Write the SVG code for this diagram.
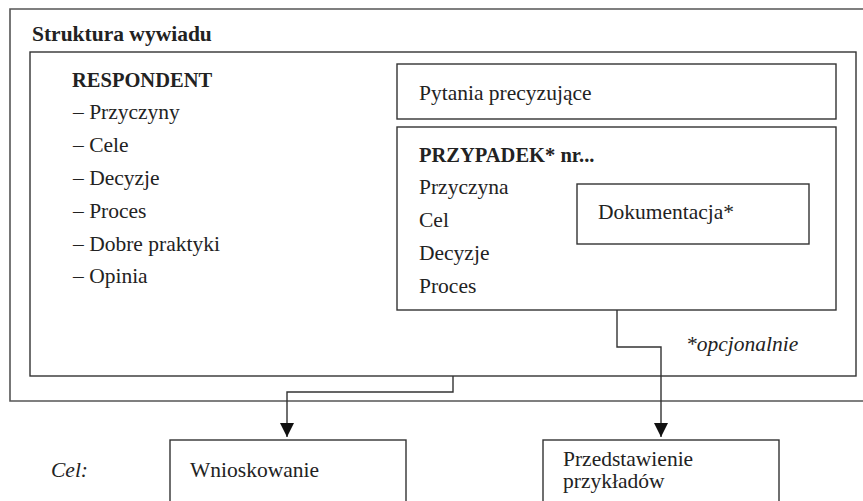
<svg xmlns="http://www.w3.org/2000/svg" width="863" height="501" viewBox="0 0 863 501" font-family="'Liberation Serif', 'Tinos', 'Nimbus Roman', 'DejaVu Serif', serif">
  <style>
    .frame { fill: none; stroke: #555; stroke-width: 1.6; }
    .box { fill: none; stroke: #333; stroke-width: 1.4; }
    .conn { fill: none; stroke: #333; stroke-width: 1.4; }
    text { font-family: 'Liberation Serif', 'Tinos', 'Nimbus Roman', 'DejaVu Serif', serif; font-size: 21.5px; fill: #222; }
    .b { font-weight: bold; }
    .caps { font-size: 20.5px; }
    .i { font-style: italic; }
  </style>
  <defs>
    <marker id="arrow" markerWidth="14" markerHeight="14" refX="14" refY="7" orient="auto" markerUnits="userSpaceOnUse">
      <path d="M0,0 L14,7 L0,14 Z" fill="#111"/>
    </marker>
  </defs>

  <rect width="863" height="501" fill="#fff"/>

  <!-- outer frame, open on the right -->
  <g id="frame">
    <path class="frame" d="M864,9 H10 V401 H864"/>
    <text class="b" x="32" y="40.5">Struktura wywiadu</text>
  </g>

  <!-- interview structure -->
  <g id="structure">
    <rect class="box" x="30" y="52" width="826" height="324"/>
  </g>

  <g id="respondent">
    <text class="b caps" x="72" y="86.7">RESPONDENT</text>
    <text x="73" y="119.3">– Przyczyny</text>
    <text x="73" y="152.2">– Cele</text>
    <text x="73" y="185">– Decyzje</text>
    <text x="73" y="217.8">– Proces</text>
    <text x="73" y="250.6">– Dobre praktyki</text>
    <text x="73" y="283.4">– Opinia</text>
  </g>

  <g id="pytania">
    <rect class="box" x="397" y="64" width="439" height="55"/>
    <text x="419" y="100">Pytania precyzujące</text>
  </g>

  <g id="przypadek">
    <rect class="box" x="397" y="127" width="439" height="183"/>
    <text class="b caps" x="419" y="162">PRZYPADEK* nr...</text>
    <text x="419" y="194">Przyczyna</text>
    <text x="419" y="227">Cel</text>
    <text x="419" y="260">Decyzje</text>
    <text x="419" y="293">Proces</text>
  </g>

  <g id="dokumentacja">
    <rect class="box" x="577" y="184" width="232" height="60"/>
    <text x="598" y="219">Dokumentacja*</text>
  </g>

  <g id="note">
    <text class="i" x="686" y="351">*opcjonalnie</text>
  </g>

  <g id="connectors">
    <path class="conn" d="M453,376 V392 H287 V437" marker-end="url(#arrow)"/>
    <path class="conn" d="M617,310 V347 H661 V437" marker-end="url(#arrow)"/>
  </g>

  <g id="cel-label">
    <text class="i" x="51" y="477">Cel:</text>
  </g>

  <g id="wnioskowanie">
    <rect class="box" x="170" y="440" width="236" height="70"/>
    <text x="190" y="477">Wnioskowanie</text>
  </g>

  <g id="przyklady">
    <rect class="box" x="543" y="440" width="236" height="70"/>
    <text x="563" y="466">Przedstawienie</text>
    <text x="563" y="488">przykładów</text>
  </g>
</svg>
